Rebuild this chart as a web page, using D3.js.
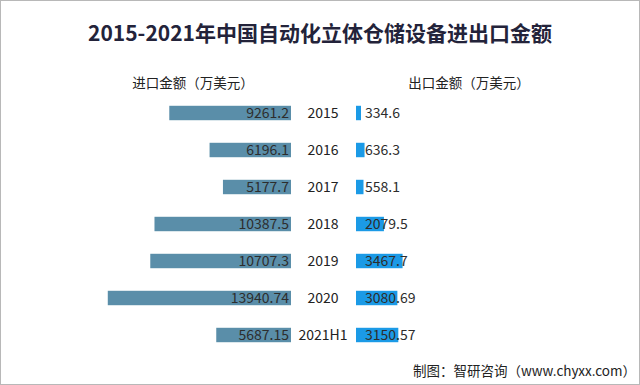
<!DOCTYPE html>
<html>
<head>
<meta charset="utf-8">
<script src="https://cdn.jsdelivr.net/npm/d3@7"></script>
<style>
  body { margin: 0; background: #fff; }
  svg { display: block; font-family: "Noto Sans CJK SC", "Open Sans", sans-serif; }
</style>
</head>
<body>
<script>
// Chart data
const years = ["2015", "2016", "2017", "2018", "2019", "2020", "2021H1"];
const importValues = [9261.2, 6196.1, 5177.7, 10387.5, 10707.3, 13940.74, 5687.15];
const exportValues = [334.6, 636.3, 558.1, 2079.5, 3467.7, 3080.69, 3150.57];
const importLabels = ["9261.2", "6196.1", "5177.7", "10387.5", "10707.3", "13940.74", "5687.15"];
const exportLabels = ["334.6", "636.3", "558.1", "2079.5", "3467.7", "3080.69", "3150.57"];

const width = 640, height = 385;

const svg = d3.select("body")
  .append("svg")
  .attr("width", width)
  .attr("height", height);

svg.append("rect")
  .attr("x", 0.5).attr("y", 0.5)
  .attr("width", width - 1).attr("height", height - 1)
  .attr("fill", "#fff")
  .attr("stroke", "#b8b8b8");

// Scales
const y = d3.scaleBand()
  .domain(years)
  .range([94.5, 353.5])
  .paddingInner(0.61)
  .paddingOuter(0.305);

const leftEdge = 291;   // right end of the import bars
const rightEdge = 356;  // left start of the export bars

const xLeft = d3.scaleLinear().domain([0, 14000]).range([0, 184]);
const xRight = d3.scaleLinear().domain([0, 3500]).range([0, 47]);

// Title
svg.append("text")
  .attr("x", 320).attr("y", 41)
  .attr("text-anchor", "middle")
  .attr("font-size", 21)
  .attr("font-weight", "bold")
  .attr("fill", "#23233a")
  .text("2015-2021年中国自动化立体仓储设备进出口金额");

// Side headers
svg.append("text")
  .attr("x", 193).attr("y", 88)
  .attr("text-anchor", "middle")
  .attr("font-size", 13.5)
  .attr("fill", "#222")
  .text("进口金额（万美元）");

svg.append("text")
  .attr("x", 469).attr("y", 88)
  .attr("text-anchor", "middle")
  .attr("font-size", 13.5)
  .attr("fill", "#222")
  .text("出口金额（万美元）");

const rows = years.map((yr, i) => ({
  year: yr,
  imp: importValues[i],
  exp: exportValues[i],
  impLabel: importLabels[i],
  expLabel: exportLabels[i]
}));

// Import bars (grow to the left)
svg.selectAll(".imp")
  .data(rows)
  .enter().append("rect")
  .attr("class", "imp")
  .attr("x", d => leftEdge - xLeft(d.imp))
  .attr("y", d => y(d.year))
  .attr("width", d => xLeft(d.imp))
  .attr("height", y.bandwidth())
  .attr("fill", "#5a8ea9");

// Export bars (grow to the right)
svg.selectAll(".exp")
  .data(rows)
  .enter().append("rect")
  .attr("class", "exp")
  .attr("x", rightEdge)
  .attr("y", d => y(d.year))
  .attr("width", d => Math.max(5, xRight(d.exp)))
  .attr("height", y.bandwidth())
  .attr("fill", "#1b9ae6");

// Import value labels
svg.selectAll(".impLabel")
  .data(rows)
  .enter().append("text")
  .attr("class", "impLabel")
  .attr("x", leftEdge - 2)
  .attr("y", d => y(d.year) + y.bandwidth() / 2)
  .attr("dy", "0.36em")
  .attr("text-anchor", "end")
  .attr("font-size", 14)
  .attr("fill", "#2d2d2d")
  .text(d => d.impLabel);

// Year labels
svg.selectAll(".yearLabel")
  .data(rows)
  .enter().append("text")
  .attr("class", "yearLabel")
  .attr("x", 323)
  .attr("y", d => y(d.year) + y.bandwidth() / 2)
  .attr("dy", "0.36em")
  .attr("text-anchor", "middle")
  .attr("font-size", 14)
  .attr("fill", "#222")
  .text(d => d.year);

// Export value labels
svg.selectAll(".expLabel")
  .data(rows)
  .enter().append("text")
  .attr("class", "expLabel")
  .attr("x", rightEdge + 9)
  .attr("y", d => y(d.year) + y.bandwidth() / 2)
  .attr("dy", "0.36em")
  .attr("font-size", 14)
  .attr("fill", "#2d2d2d")
  .text(d => d.expLabel);

// Source
svg.append("text")
  .attr("x", 636).attr("y", 376)
  .attr("text-anchor", "end")
  .attr("font-size", 13.5)
  .attr("fill", "#222")
  .text("制图：智研咨询（www.chyxx.com）");
</script>
</body>
</html>
